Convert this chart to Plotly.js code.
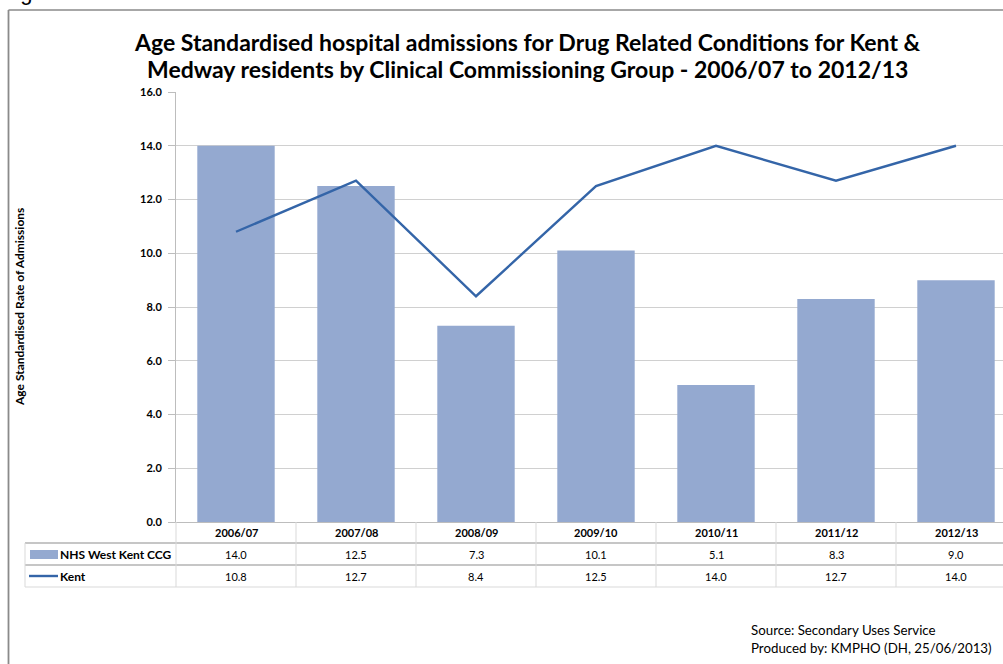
<!DOCTYPE html>
<html><head><meta charset="utf-8">
<script src="https://cdn.plot.ly/plotly-3.0.1.min.js"></script>
<style>html,body{margin:0;padding:0;overflow:hidden;background:#fff;width:1003px;height:664px}#chart{width:1020px;height:664px}</style>
</head><body><div id="chart"></div>
<script>
const categories = ['2006/07','2007/08','2008/09','2009/10','2010/11','2011/12','2012/13'];
const ccgValues = [14.0, 12.5, 7.3, 10.1, 5.1, 8.3, 9.0];
const kentValues = [10.8, 12.7, 8.4, 12.5, 14.0, 12.7, 14.0];
const ccgName = 'NHS West Kent CCG';
const kentName = 'Kent';
const yTicks = [0,2,4,6,8,10,12,14,16];
const titleLines = ['Age Standardised hospital admissions for Drug Related Conditions for Kent &amp;',
                    'Medway residents by Clinical Commissioning Group - 2006/07 to 2012/13'];

const W = 1020, H = 664, L = 176, R = 1016, T = 92, B = 522;
const px = x => (x - L) / (R - L);
const py = y => (B - y) / (B - T);
const FONT = 'Lato, "Open Sans", sans-serif';

const traces = [
  {type:'bar', x:categories, y:ccgValues, name:ccgName, marker:{color:'#94a9d0'}, width:0.645, hoverinfo:'skip'},
  {type:'scatter', mode:'lines', x:categories, y:kentValues, name:kentName, line:{color:'#3465a8', width:2.4}, hoverinfo:'skip'}
];

const shapes = [];
const annotations = [];
const gridC = '#c6c6c6', vC = '#d9d9d9';
// frame
shapes.push({type:'line', xref:'paper', yref:'paper', x0:px(8.5), x1:px(1030), y0:py(10), y1:py(10), line:{color:'#8a8a8a', width:1.5}});
shapes.push({type:'line', xref:'paper', yref:'paper', x0:px(8.5), x1:px(8.5), y0:py(10), y1:py(670), line:{color:'#8a8a8a', width:1.8}});
// table horizontal lines
[543, 565].forEach(y => shapes.push({type:'line', xref:'paper', yref:'paper', x0:px(25), x1:px(1020), y0:py(y), y1:py(y), line:{color:gridC, width:2}}));
shapes.push({type:'line', xref:'paper', yref:'paper', x0:px(25), x1:px(1020), y0:py(587), y1:py(587), line:{color:vC, width:1}});
// table verticals
for (let k = 0; k <= categories.length; k++) {
  const x = L + 120 * k;
  shapes.push({type:'line', xref:'paper', yref:'paper', x0:px(x), x1:px(x), y0:py(522), y1:py(587), line:{color:vC, width:1}});
}
shapes.push({type:'line', xref:'paper', yref:'paper', x0:px(25), x1:px(25), y0:py(543), y1:py(587), line:{color:vC, width:1}});
// legend keys
shapes.push({type:'rect', xref:'paper', yref:'paper', x0:px(30), x1:px(58), y0:py(550), y1:py(559), fillcolor:'#94a9d0', line:{width:0}});
shapes.push({type:'line', xref:'paper', yref:'paper', x0:px(29), x1:px(58), y0:py(576), y1:py(576), line:{color:'#3465a8', width:2.4}});
annotations.push({xref:'paper', yref:'paper', x:px(58), y:py(554), text:ccgName, showarrow:false, xanchor:'left', yanchor:'middle', font:{family:FONT, size:12, color:'#000', weight:'bold'}});
annotations.push({xref:'paper', yref:'paper', x:px(58), y:py(576), text:kentName, showarrow:false, xanchor:'left', yanchor:'middle', font:{family:FONT, size:12, color:'#000', weight:'bold'}});
// table cells
categories.forEach((c, i) => {
  annotations.push({xref:'x', yref:'paper', x:c, y:py(532.5), text:c, showarrow:false, yanchor:'middle', font:{family:FONT, size:11, color:'#000', weight:'bold'}});
  annotations.push({xref:'x', yref:'paper', x:c, y:py(554), text:ccgValues[i].toFixed(1), showarrow:false, yanchor:'middle', font:{family:FONT, size:11, color:'#000'}});
  annotations.push({xref:'x', yref:'paper', x:c, y:py(576), text:kentValues[i].toFixed(1), showarrow:false, yanchor:'middle', font:{family:FONT, size:11, color:'#000'}});
});
// title (two lines placed individually)
annotations.push({xref:'paper', yref:'paper', x:px(527), y:py(42), text:titleLines[0], showarrow:false, xanchor:'center', yanchor:'middle', font:{family:FONT, size:23, color:'#000', weight:'bold'}});
annotations.push({xref:'paper', yref:'paper', x:px(527), y:py(69), text:titleLines[1], showarrow:false, xanchor:'center', yanchor:'middle', font:{family:FONT, size:23, color:'#000', weight:'bold'}});
// Figure label (cut off at top, as in the original)
annotations.push({xref:'paper', yref:'paper', x:px(0), y:py(7), text:'Figure 6', showarrow:false, xanchor:'left', yanchor:'bottom', font:{family:'Liberation Sans, Arial, sans-serif', size:22, color:'#000'}});
// source
annotations.push({xref:'paper', yref:'paper', x:px(749), y:py(630), text:'Source: Secondary Uses Service', showarrow:false, xanchor:'left', yanchor:'middle', font:{family:FONT, size:13.3, color:'#000'}});
annotations.push({xref:'paper', yref:'paper', x:px(749), y:py(648), text:'Produced by: KMPHO (DH, 25/06/2013)', showarrow:false, xanchor:'left', yanchor:'middle', font:{family:FONT, size:13.3, color:'#000'}});
// y axis title
annotations.push({xref:'paper', yref:'paper', x:px(19), y:py(307), text:'Age Standardised Rate of Admissions', textangle:-90, showarrow:false, xanchor:'center', yanchor:'middle', font:{family:FONT, size:12, color:'#000', weight:'bold'}});

const layout = {
  width:W, height:H,
  margin:{l:L, r:W-R, t:T, b:H-B, pad:0},
  paper_bgcolor:'#fff', plot_bgcolor:'#fff',
  showlegend:false,
  xaxis:{type:'category', range:[-0.5, categories.length-0.5], showticklabels:false, showgrid:false, zeroline:false, showline:true, linecolor:'#bdbdbd', linewidth:1, ticks:''},
  yaxis:{range:[0,16], tickvals:yTicks, ticktext:yTicks.map(v=>v.toFixed(1)), showgrid:true, gridcolor:'#d0d0d0', gridwidth:1, zeroline:false,
         showline:true, linecolor:'#bdbdbd', linewidth:1, ticks:'outside', ticklen:7, tickcolor:'#bdbdbd', ticklabelstandoff:4,
         tickfont:{family:FONT, size:11, color:'#000', weight:'bold'}},
  bargap:0.35,
  shapes:shapes, annotations:annotations
};
Plotly.newPlot('chart', traces, layout, {staticPlot:true, displayModeBar:false});
</script></body></html>
